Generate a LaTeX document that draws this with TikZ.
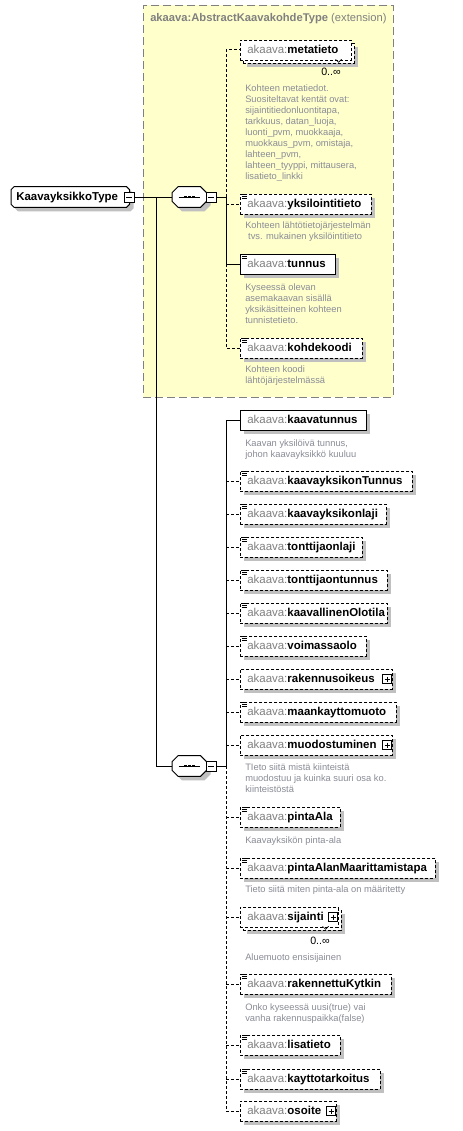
\documentclass[tikz,border=0pt]{standalone}
\usepackage{fontspec}
\setmainfont{Liberation Sans}
\usetikzlibrary{shadows}
\definecolor{ybg}{RGB}{255,255,204}
\definecolor{ybd}{RGB}{128,128,128}
\definecolor{pfx}{RGB}{128,128,128}
\definecolor{dscc}{RGB}{138,140,150}
\definecolor{shd}{RGB}{192,192,192}
\pgfdeclarelayer{bg}
\pgfsetlayers{bg,main}
\newcommand\ak[1]{\textcolor{pfx}{akaava:}\textbf{#1}}
\newcommand\lico[1]{\foreach \k in {0.5,2.5,4.5}{\draw[line width=0.75pt] ([shift={(2,\k)}]#1.north west) -- ++(5,0);}}
\newcommand\plico[1]{\draw[line width=0.75pt,fill=white] ([shift={(-10,-4.5)}]#1.east) rectangle ++(9,9);
  \draw[line width=0.75pt] ([shift={(-8,0)}]#1.east) -- ++(5,0) ([shift={(-5.5,-2.5)}]#1.east) -- ++(0,5);}
% octagon outline round a node: name, cut, offset
\newcommand\octpath[3]{([shift={(#2+#3,#3)}]#1.north west) -- ([shift={(-#2+#3,#3)}]#1.north east) -- ([shift={(#3,#2+#3)}]#1.north east) -- ([shift={(#3,-#2+#3)}]#1.south east) -- ([shift={(-#2+#3,#3)}]#1.south east) -- ([shift={(#2+#3,#3)}]#1.south west) -- ([shift={(#3,-#2+#3)}]#1.south west) -- ([shift={(#3,#2+#3)}]#1.north west) -- cycle}
\newcommand\octo[2]{\begin{pgfonlayer}{bg}\fill[shd] \octpath{#1}{#2}{4}; \draw[fill=white,line width=0.75pt] \octpath{#1}{#2}{0};\end{pgfonlayer}}
\begin{document}
\begin{tikzpicture}[x=0.75pt,y=-0.75pt,line width=0.75pt,
  el0/.style={draw,fill=white,anchor=west,minimum height=15pt,inner xsep=5.25pt,inner ysep=0pt,
    text height=6.3pt,text depth=1.7pt,align=left,font=\fontsize{8.6pt}{10pt}\selectfont},
  el/.style={el0,drop shadow={shadow xshift=3pt,shadow yshift=-3pt,fill=shd,opacity=1}},
  opt/.style={dash pattern=on 2.25pt off 1.5pt},
  cn/.style={draw,line width=0.75pt},
  dsc/.style={anchor=north west,align=left,inner sep=0pt,font=\fontsize{7pt}{8.25pt}\selectfont,text=dscc},
  mini/.style={draw,fill=white,minimum size=7.5pt,inner sep=0pt,
    path picture={\draw ([xshift=1.5pt]path picture bounding box.west) -- ([xshift=-1.5pt]path picture bounding box.east);}},
  seqbox/.style={minimum width=25.5pt,minimum height=15pt,inner sep=0pt,anchor=west},
  mult/.style={font=\fontsize{8pt}{9pt}\selectfont,inner sep=0pt}
]
\useasboundingbox (0,0) rectangle (463,1131);
\begin{pgfonlayer}{bg}
\fill[white] (0,0) rectangle (463,1131);
\node[draw=ybd,fill=ybg,dash pattern=on 6pt off 3pt,minimum width=187.5pt,minimum height=294pt,anchor=north west,inner sep=0pt] (ext) at (143,5) {};
\end{pgfonlayer}
\node[anchor=west,inner sep=0pt,text=pfx,font=\fontsize{8.4pt}{10pt}\selectfont] (title) at (150,19) {\textbf{akaava:AbstractKaavakohdeType} (extension)};

% type
\node[anchor=west,minimum height=15pt,inner xsep=3.75pt,inner ysep=0pt,text width=81pt,align=left,text height=6.3pt,text depth=1.7pt,font=\fontsize{8.6pt}{10pt}\selectfont\bfseries] (t0) at (11,197) {KaavayksikkoType};
\octo{t0}{3}
\node[mini] (t0m) at (129,197) {};

% sequence 1
\node[seqbox] (s1) at (172,197) {};
\octo{s1}{6}
\node[mini] (s1m) at (211,197) {};
\draw ([xshift=-8pt]s1.center) -- ([xshift=8pt]s1.center);
\foreach \dx in {-3,0,3}{\fill ([xshift=\dx pt]s1.center) +(-1.1pt,-1.1pt) rectangle +(1.1pt,1.1pt);}

% block 1 elements
\node[el,opt,text width=72.75pt] (e1b) at (243,53) {\phantom{\ak{metatieto}}};
\node[el0,opt,text width=72.75pt] (e1) at (240,50) {\ak{metatieto}};
\draw[line width=0.5pt] ([shift={(-16,-1)}]e1.south east) -- ++(3,3) -- ++(3,-3);
\node[mult] (m1) at (331,72) {0..∞};
\node[dsc] (d1) at (245,84.3) {Kohteen metatiedot.\\Suositeltavat kentät ovat:\\sijaintitiedonluontitapa,\\tarkkuus, datan\_luoja,\\luonti\_pvm, muokkaaja,\\muokkaus\_pvm, omistaja,\\lahteen\_pvm,\\lahteen\_tyyppi, mittausera,\\lisatieto\_linkki};
\node[el,opt,text width=87.75pt] (e2) at (240,204) {\ak{yksilointitieto}}; \lico{e2}
\node[dsc] (d2) at (245,221.8) {Kohteen lähtötietojärjestelmän\\\hspace*{2.2pt}tvs. mukainen yksilöintitieto};
\node[el,text width=60.75pt] (e3) at (240,264) {\ak{tunnus}}; \lico{e3}
\node[dsc] (d3) at (245,283) {Kyseessä olevan\\asemakaavan sisällä\\yksikäsitteinen kohteen\\tunnistetieto.};
\node[el,opt,text width=81pt] (e4) at (240,348) {\ak{kohdekoodi}}; \lico{e4}
\node[dsc] (d4) at (245,365.6) {Kohteen koodi\\lähtöjärjestelmässä};

\coordinate (j0) at (156,197);
\coordinate (v1) at (226,197);
\coordinate (v2) at (226,766);
\draw[cn] (t0m.east) -- (s1.west);
\draw[cn] (s1m.east) -- (v1);
\draw[cn,opt] (v1) -- (v1 |- e1.west) -- (e1.west);
\draw[cn,opt] (v1 |- e2.west) -- (e2.west);
\draw[cn] (v1) -- (v1 |- e3.west) -- (e3.west);
\draw[cn,opt] (v1 |- e3.west) -- (v1 |- e4.west) -- (e4.west);

% sequence 2
\node[seqbox] (s2) at (172,766) {};
\octo{s2}{6}
\node[mini] (s2m) at (211,766) {};
\draw ([xshift=-8pt]s2.center) -- ([xshift=8pt]s2.center);
\foreach \dx in {-3,0,3}{\fill ([xshift=\dx pt]s2.center) +(-1.1pt,-1.1pt) rectangle +(1.1pt,1.1pt);}
\draw[cn] (j0) |- (s2.west);
\draw[cn] (s2m.east) -- (v2);

% block 2 elements
\node[el,text width=84pt] (f1) at (240,420) {\ak{kaavatunnus}};
\node[dsc] (d5) at (245,439) {Kaavan yksilöivä tunnus,\\johon kaavayksikkö kuuluu};
\node[el,opt,text width=118.5pt] (f2) at (240,481) {\ak{kaavayksikonTunnus}}; \lico{f2}
\node[el,opt,text width=99pt] (f3) at (240,514) {\ak{kaavayksikonlaji}}; \lico{f3}
\node[el,opt,text width=81pt] (f4) at (240,547) {\ak{tonttijaonlaji}}; \lico{f4}
\node[el,opt,text width=99.75pt] (f5) at (240,580) {\ak{tonttijaontunnus}}; \lico{f5}
\node[el,opt,text width=99.75pt] (f6) at (240,613) {\ak{kaavallinenOlotila}}; \lico{f6}
\node[el,opt,text width=84pt] (f7) at (240,646) {\ak{voimassaolo}}; \lico{f7}
\node[el,opt,text width=103.5pt] (f8) at (240,679) {\ak{rakennusoikeus}}; \plico{f8}
\node[el,opt,text width=106.5pt] (f9) at (240,712) {\ak{maankayttomuoto}}; \lico{f9}
\node[el,opt,text width=103.5pt] (f10) at (240,745) {\ak{muodostuminen}}; \plico{f10}
\node[dsc] (d6) at (245,763) {TIeto siitä mistä kiinteistä\\muodostuu ja kuinka suuri osa ko.\\kiinteistöstä};
\node[el,opt,text width=64.5pt] (f11) at (240,817) {\ak{pintaAla}}; \lico{f11}
\node[dsc] (d7) at (245,836.3) {Kaavayksikön pinta-ala};
\node[el,opt,text width=135.75pt] (f12) at (240,868) {\ak{pintaAlanMaarittamistapa}}; \lico{f12}
\node[dsc] (d8) at (245,885.6) {Tieto siitä miten pinta-ala on määritetty};
\node[el,opt,text width=63pt] (f13b) at (243,920) {\phantom{\ak{sijainti}}};
\node[el0,opt,text width=63pt] (f13) at (240,917) {\ak{sijainti}}; \plico{f13}
\draw[line width=0.5pt] ([shift={(-16,-1)}]f13.south east) -- ++(3,3) -- ++(3,-3);
\node[mult] (m2) at (320,941) {0..∞};
\node[dsc] (d9) at (245,953) {Aluemuoto ensisijainen};
\node[el,opt,text width=102.75pt] (f14) at (240,984) {\ak{rakennettuKytkin}}; \lico{f14}
\node[dsc] (d10) at (245,1003) {Onko kyseessä uusi(true) vai\\vanha rakennuspaikka(false)};
\node[el,opt,text width=64.5pt] (f15) at (240,1045) {\ak{lisatieto}}; \lico{f15}
\node[el,opt,text width=94.5pt] (f16) at (240,1079) {\ak{kayttotarkoitus}}; \lico{f16}
\node[el,opt,text width=61.5pt] (f17) at (240,1111) {\ak{osoite}}; \plico{f17}

\draw[cn] (v2) -- (v2 |- f1.west) -- (f1.west);
\foreach \n in {f2,f3,f4,f5,f6,f7,f8,f9,f10}{\draw[cn,opt] (v2 |- \n.west) -- (\n.west);}
\draw[cn,opt] (v2) -- (v2 |- f17.west);
\foreach \n in {f11,f12,f13,f14,f15,f16,f17}{\draw[cn,opt] (v2 |- \n.west) -- (\n.west);}
\end{tikzpicture}
\end{document}
